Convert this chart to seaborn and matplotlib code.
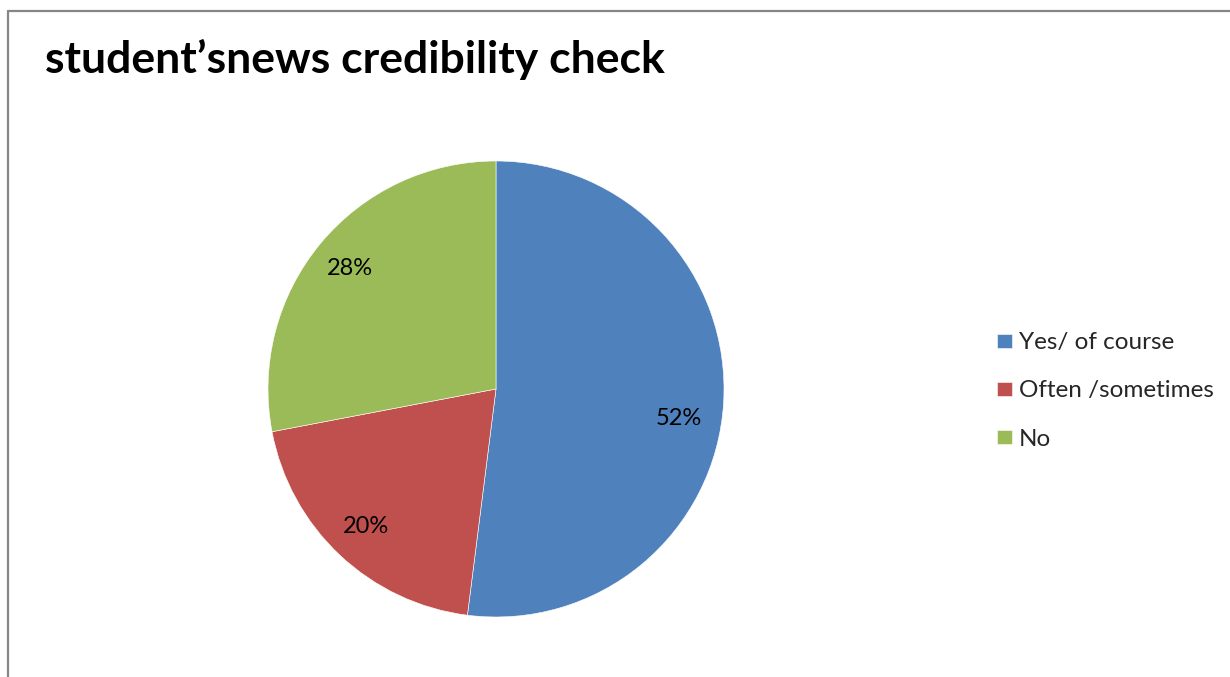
import matplotlib
matplotlib.use("Agg")
import numpy as np
import matplotlib.pyplot as plt
from matplotlib.lines import Line2D
import seaborn as sns

categories = ["Yes/ of course", "Often /sometimes", "No"]
values = [52, 20, 28]
colors = ["#4F81BD", "#C0504D", "#9BBB59"]
title = "student\u2019snews credibility check"

sns.set_theme(style="white")
plt.rcParams['font.family'] = ['Lato', 'DejaVu Sans']

W, H = 1230, 677
fig = plt.figure(figsize=(W / 100, H / 100), dpi=100)
fig.patch.set_facecolor("white")

# border (chart area frame, cropped at right/bottom)
fig.add_artist(Line2D([7.5 / W, 7.5 / W], [0, 1 - 11 / H], color="#868686", lw=1.6))
fig.add_artist(Line2D([7.5 / W, 1], [1 - 11 / H, 1 - 11 / H], color="#868686", lw=1.6))

cx, cy, r = 496, 389, 228
ax = fig.add_axes([(cx - r) / W, (H - cy - r) / H, 2 * r / W, 2 * r / H])
wedges, texts, autotexts = ax.pie(
    values, colors=colors, startangle=90, counterclock=False,
    autopct=lambda p: f"{p:.0f}%", pctdistance=0.83, radius=1,
    wedgeprops=dict(linewidth=0.4, edgecolor="white"),
    textprops=dict(fontsize=17, color="black"),
)
# Excel-style nudge of the first (large) slice label
w0 = wedges[0]
ang = np.deg2rad((w0.theta1 + w0.theta2) / 2 - 5.5)
autotexts[0].set_position((0.81 * np.cos(ang), 0.81 * np.sin(ang)))

ax.set_xlim(-1, 1)
ax.set_ylim(-1, 1)
ax.set_aspect("equal")
ax.axis("off")

fig.text(45 / W, 1 - 59 / H, title, fontsize=32, fontweight="bold",
         ha="left", va="center", color="black")

leg = fig.legend(wedges, categories, loc="center left",
                 bbox_to_anchor=(997 / W, 1 - 391 / H), frameon=False,
                 fontsize=17.5, handlelength=0.6, handleheight=0.5,
                 handletextpad=0.3, labelspacing=1.12, borderaxespad=0,
                 borderpad=0)

fig.savefig("out.png", dpi=100, facecolor="white")
